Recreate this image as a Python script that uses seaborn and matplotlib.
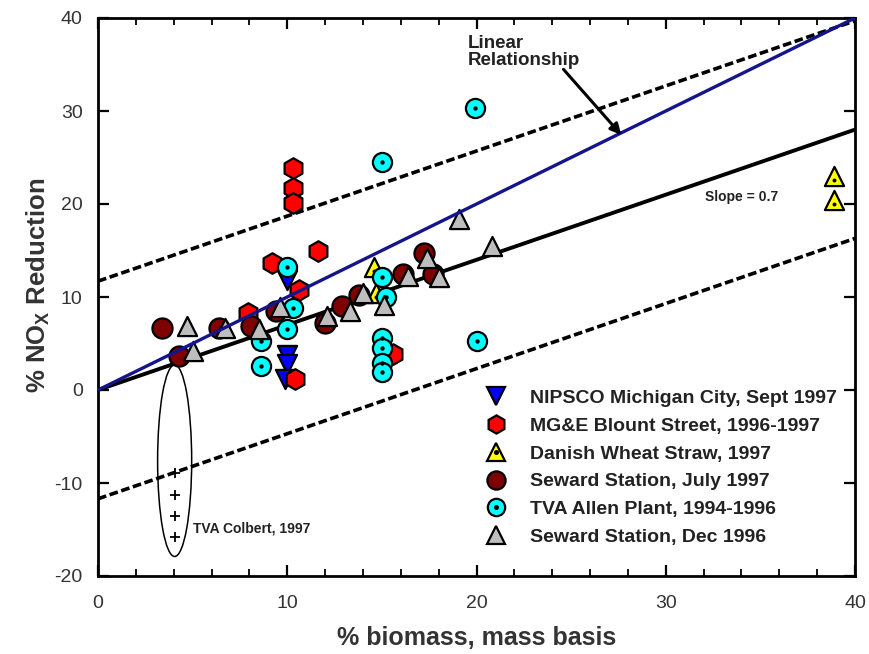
import matplotlib
matplotlib.use("Agg")
import matplotlib.pyplot as plt
import seaborn as sns
import numpy as np
from matplotlib.patches import Ellipse
from matplotlib.lines import Line2D
from matplotlib.legend_handler import HandlerTuple
from matplotlib.ticker import MultipleLocator
from matplotlib import font_manager

sns.set_style("white")
plt.rcParams['font.family'] = ['Liberation Sans', 'DejaVu Sans']
plt.rcParams['mathtext.fontset'] = 'custom'
plt.rcParams['mathtext.rm'] = 'Liberation Sans:bold'
plt.rcParams['mathtext.bf'] = 'Liberation Sans:bold'
plt.rcParams['axes.unicode_minus'] = False

names = {f.name for f in font_manager.fontManager.ttflist}
NARROW = 'Liberation Sans Narrow' if 'Liberation Sans Narrow' in names else None

# ---- data ----
nipsco_x = [10.0, 10.0, 10.0, 9.9]
nipsco_y = [11.8, 3.8, 2.8, 1.2]

mge_x = [10.3, 10.3, 10.3, 11.6, 9.2, 10.6, 7.9, 10.4, 15.6]
mge_y = [23.9, 21.7, 20.1, 15.0, 13.7, 10.7, 8.3, 1.2, 3.9]

danish_x = [38.9, 38.9, 14.6, 14.7]
danish_y = [23.0, 20.4, 13.2, 10.4]

sewjul_x = [3.4, 4.3, 6.4, 8.1, 9.4, 12.0, 12.9, 13.8, 16.1, 17.2, 17.7]
sewjul_y = [6.7, 3.7, 6.7, 6.9, 8.5, 7.2, 9.0, 10.2, 12.5, 14.7, 12.5]

tva_x = [19.9, 15.0, 10.0, 10.3, 10.0, 8.6, 8.6, 15.0, 15.2, 15.0, 15.0, 15.0, 15.0, 20.0]
tva_y = [30.3, 24.5, 13.2, 8.8, 6.6, 5.3, 2.6, 12.1, 10.0, 5.6, 4.5, 2.9, 1.9, 5.3]

sewdec_x = [4.7, 5.0, 6.7, 8.5, 9.6, 12.1, 13.3, 14.0, 15.1, 16.4, 17.4, 18.0, 19.1, 20.8]
sewdec_y = [6.9, 4.2, 6.7, 6.6, 8.9, 8.0, 8.5, 10.4, 9.1, 12.3, 14.2, 12.1, 18.4, 15.5]

colbert_x = [4.05, 4.05, 4.05, 4.05]
colbert_y = [-8.9, -11.3, -13.6, -15.8]

labels = ["NIPSCO Michigan City, Sept 1997", "MG&E Blount Street, 1996-1997",
          "Danish Wheat Straw, 1997", "Seward Station, July 1997",
          "TVA Allen Plant, 1994-1996", "Seward Station, Dec 1996"]

line_x = [0, 40]
slope = 0.7
band = 11.7

fig = plt.figure(figsize=(8.69, 6.54), dpi=100)
ax = fig.add_axes([98/869, 78/654, 757/869, 558/654])

ax.set_xlim(0, 40)
ax.set_ylim(-20, 40)

# lines
lx = np.array(line_x, dtype=float)
ax.plot(lx, slope*lx + band, color='black', lw=2.6, ls=(0, (2.4, 1.0)), zorder=2)
ax.plot(lx, slope*lx - band, color='black', lw=2.6, ls=(0, (2.4, 1.0)), zorder=2)
ax.plot(lx, slope*lx, color='black', lw=2.8, zorder=2)

ms = 190
ec = 'black'
lw = 1.6
sns.scatterplot(x=nipsco_x, y=nipsco_y, marker='v', s=ms, color='#0000FF', edgecolor=ec, linewidth=lw, ax=ax, zorder=3)
sns.scatterplot(x=mge_x, y=mge_y, marker='h', s=ms*1.15, color='#FF0000', edgecolor=ec, linewidth=lw, ax=ax, zorder=3)
sns.scatterplot(x=sewjul_x, y=sewjul_y, marker='o', s=ms*1.1, color='#7F0000', edgecolor=ec, linewidth=lw, ax=ax, zorder=3)
sns.scatterplot(x=danish_x, y=danish_y, marker='^', s=ms, color='#FFFF00', edgecolor=ec, linewidth=lw, ax=ax, zorder=4)
sns.scatterplot(x=danish_x, y=[v - 0.4 for v in danish_y], marker='o', s=8, color='black', edgecolor='black', linewidth=0, ax=ax, zorder=4)
sns.scatterplot(x=tva_x, y=tva_y, marker='o', s=ms, color='#00FFFF', edgecolor=ec, linewidth=lw, ax=ax, zorder=5)
sns.scatterplot(x=tva_x, y=tva_y, marker='o', s=10, color='black', edgecolor='black', linewidth=0, ax=ax, zorder=5)
sns.scatterplot(x=sewdec_x, y=sewdec_y, marker='^', s=ms, color='#BEBEBE', edgecolor=ec, linewidth=lw, ax=ax, zorder=6)
sns.scatterplot(x=colbert_x, y=colbert_y, marker='+', s=60, color='black', linewidth=1.3, ax=ax, zorder=6)

# blue linear relationship line on top
ax.plot(lx, lx, color='#14148C', lw=2.4, zorder=7)

# ellipse
ax.add_patch(Ellipse((4.05, -7.6), 1.8, 20.6, fill=False, edgecolor='black', lw=1.1, zorder=6))

# annotations
txtc = '#222222'
ax.text(19.55, 38.2, "Linear\nRelationship", fontsize=13.5, fontweight='bold', color=txtc,
        ha='left', va='top', linespacing=1.0)
ax.annotate("", xy=(27.75, 27.2), xytext=(24.5, 34.7),
            arrowprops=dict(arrowstyle='-|>', color='black', lw=2.2, mutation_scale=16), zorder=8)
ax.text(32.1, 20.7, "Slope = 0.7", fontsize=10, fontweight='bold', color=txtc, ha='left', va='center')
ax.text(5.0, -14.9, "TVA Colbert, 1997", fontsize=10, fontweight='bold', color=txtc, ha='left', va='center')

# legend
mk = 12.5
dot = Line2D([], [], ls='none', marker='o', ms=2.6, mfc='black', mec='black')
handles = [
    Line2D([], [], ls='none', marker='v', ms=mk, mfc='#0000FF', mec='black', mew=1.6),
    Line2D([], [], ls='none', marker='h', ms=mk*1.05, mfc='#FF0000', mec='black', mew=1.6),
    (Line2D([], [], ls='none', marker='^', ms=mk, mfc='#FFFF00', mec='black', mew=1.6), dot),
    Line2D([], [], ls='none', marker='o', ms=mk*1.05, mfc='#7F0000', mec='black', mew=1.6),
    (Line2D([], [], ls='none', marker='o', ms=mk, mfc='#00FFFF', mec='black', mew=1.6), dot),
    Line2D([], [], ls='none', marker='^', ms=mk, mfc='#BEBEBE', mec='black', mew=1.6),
]
leg = ax.legend(handles, labels, loc='upper left', bbox_to_anchor=(0.51, 0.334),
                frameon=False, handlelength=1.2, handletextpad=1.15,
                labelspacing=0.52, borderpad=0, borderaxespad=0,
                handler_map={tuple: HandlerTuple(ndivide=1, pad=0)},
                prop={'weight': 'bold', 'size': 14})
for t in leg.get_texts():
    t.set_color(txtc)

# axes styling
for s in ax.spines.values():
    s.set_linewidth(2)
    s.set_color('black')
ax.xaxis.set_major_locator(MultipleLocator(10))
ax.xaxis.set_minor_locator(MultipleLocator(2))
ax.yaxis.set_major_locator(MultipleLocator(10))
ax.tick_params(axis='both', which='both', direction='in', top=True, right=True,
               bottom=True, left=True, colors='black', labelcolor='#333333')
ax.tick_params(which='major', length=8, width=1.6)
ax.tick_params(axis='x', which='major', pad=14)
ax.tick_params(axis='y', which='major', pad=11)
ax.tick_params(which='minor', length=5, width=1.3)
for lab in ax.get_xticklabels() + ax.get_yticklabels():
    if NARROW:
        lab.set_fontfamily(NARROW)
        lab.set_fontsize(17)
    else:
        lab.set_fontsize(14)

ax.set_xlabel("% biomass, mass basis", fontsize=18, fontweight='bold', color='#333333', labelpad=10)
ax.set_ylabel(r"% NO$_\mathbf{X}$ Reduction", fontsize=18.5, fontweight='bold', color='#333333')
ax.yaxis.set_label_coords(-0.061, 0.521)

fig.savefig("out.png", dpi=100)
